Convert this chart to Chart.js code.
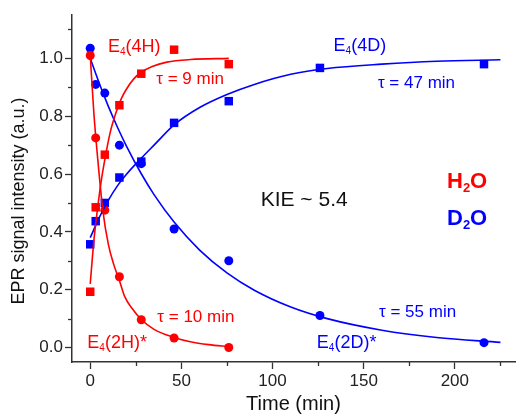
<!DOCTYPE html>
<html>
<head>
<meta charset="utf-8">
<script src="https://cdn.jsdelivr.net/npm/chart.js@4.4.0/dist/chart.umd.min.js"></script>
<style>
  html, body { margin: 0; padding: 0; background: #fff; }
  #wrap { width: 521px; height: 416px; }
</style>
</head>
<body>
<div id="wrap"><canvas id="c"></canvas></div>
<script>
// measured times (min)
const tH = [0, 3, 8, 16, 28, 46, 76];
const tD = [0, 3, 8, 16, 28, 46, 76, 126, 216];

// EPR intensities
const e4_4H = [0.193, 0.485, 0.667, 0.838, 0.947, 1.03, 0.98];
const e4_2H = [1.01, 0.725, 0.475, 0.245, 0.096, 0.033, 0.0];
const e4_4D = [0.357, 0.437, 0.50, 0.588, 0.643, 0.777, 0.852, 0.967, 0.98];
const e4_2D = [1.035, 0.91, 0.88, 0.70, 0.636, 0.41, 0.30, 0.111, 0.017];

// fitted curves, sampled from the figure
const fit4H_t = [0, 2, 4, 6, 8, 11, 14, 17, 20, 24, 28, 34, 42, 55, 76];
const fit4H_y = [0.22, 0.37, 0.48, 0.575, 0.65, 0.745, 0.81, 0.86, 0.895, 0.93, 0.952, 0.972, 0.987, 0.996, 1.0];
const fit2H_t = [0, 2, 4, 7, 10, 13, 16, 19, 23, 28, 35, 46, 55, 65, 76];
const fit2H_y = [1.01, 0.81, 0.66, 0.47, 0.355, 0.285, 0.232, 0.175, 0.135, 0.097, 0.063, 0.035, 0.02, 0.01, 0.003];
const fitD_t = [0, 5, 10, 15, 20, 28, 35, 46, 60, 75, 90, 110, 130, 160, 190, 225];
const fit4D_y = [0.38, 0.45, 0.51, 0.56, 0.60, 0.655, 0.70, 0.77, 0.83, 0.875, 0.91, 0.945, 0.965, 0.98, 0.99, 0.995];
const fit2D_y = [1.0, 0.913, 0.833, 0.761, 0.695, 0.601, 0.529, 0.434, 0.337, 0.258, 0.198, 0.14, 0.1, 0.06, 0.035, 0.018];

const xTicks = [0, 50, 100, 150, 200];
const xMinor = [25, 75, 125, 175, 225];
const yTicks = [0, 0.2, 0.4, 0.6, 0.8, 1.0];
const yMinor = [0.1, 0.3, 0.5, 0.7, 0.9, 1.1];

const yTitle = 'EPR signal intensity (a.u.)';

const RED = '#ff0000';
const BLUE = '#0000ff';
const FONT = 'Arial, "Liberation Sans", sans-serif';

// annotations: [x, y(baseline), text parts, colour, size, bold]
const notes = [
  [9.7, 1.021, [['E'], ['4', 1], ['(4H)']], RED, 18, false],
  [36.2, 0.912, [['τ = 9 min']], RED, 17, false],
  [133.5, 1.024, [['E'], ['4', 1], ['(4D)']], BLUE, 18, false],
  [157.8, 0.898, [['τ = 47 min']], BLUE, 17, false],
  [93.5, 0.491, [['KIE ~ 5.4']], '#111', 21, false],
  [195.7, 0.551, [['H'], ['2', 1], ['O']], RED, 22, true],
  [195.7, 0.423, [['D'], ['2', 1], ['O']], BLUE, 22, true],
  [36.8, 0.087, [['τ = 10 min']], RED, 17, false],
  [-1.6, -0.003, [['E'], ['4', 1], ['(2H)*']], RED, 18, false],
  [158.4, 0.107, [['τ = 55 min']], BLUE, 17, false],
  [124.3, -0.003, [['E'], ['4', 1], ['(2D)*']], BLUE, 18, false]
];

const pts = (xs, ys) => xs.map((x, i) => ({x: x, y: ys[i]}));

const curve = (xs, ys, color) => ({
  data: pts(xs, ys), showLine: true, borderColor: color, borderWidth: 1.6,
  pointRadius: 0, cubicInterpolationMode: 'monotone', fill: false
});
const marks = (xs, ys, color, style, r) => ({
  data: pts(xs, ys), showLine: false, pointStyle: style, pointRadius: r,
  pointBackgroundColor: color, pointBorderWidth: 0, backgroundColor: color
});

const extras = {
  id: 'extras',
  afterDraw(chart) {
    const ctx = chart.ctx, xs = chart.scales.x, ys = chart.scales.y;
    ctx.save();
    ctx.strokeStyle = '#333';
    ctx.lineWidth = 1.3;
    // minor ticks
    xMinor.forEach(v => {
      const px = Math.round(xs.getPixelForValue(v)) + 0.5;
      ctx.beginPath(); ctx.moveTo(px, xs.top); ctx.lineTo(px, xs.top + 4); ctx.stroke();
    });
    yMinor.forEach(v => {
      const py = Math.round(ys.getPixelForValue(v)) + 0.5;
      ctx.beginPath(); ctx.moveTo(ys.right, py); ctx.lineTo(ys.right - 4, py); ctx.stroke();
    });
    // y axis title, centred a little below the plot centre as in the original
    ctx.save();
    ctx.translate(19, ys.getPixelForValue(0.5) - 2);
    ctx.rotate(-Math.PI / 2);
    ctx.font = '18px ' + FONT;
    ctx.fillStyle = '#111';
    ctx.textAlign = 'center';
    ctx.textBaseline = 'middle';
    ctx.fillText(yTitle, 0, 0);
    ctx.restore();
    // text notes
    ctx.textBaseline = 'alphabetic';
    ctx.textAlign = 'left';
    notes.forEach(([x, y, parts, color, size, bold]) => {
      let cx = xs.getPixelForValue(x);
      const by = ys.getPixelForValue(y);
      ctx.fillStyle = color;
      parts.forEach(([t, sub]) => {
        const s = sub ? Math.round(size * 0.58) : size;
        ctx.font = (bold ? 'bold ' : '') + s + 'px ' + FONT;
        ctx.fillText(t, cx, sub ? by + size * 0.15 : by);
        cx += ctx.measureText(t).width;
      });
    });
    ctx.restore();
  }
};

new Chart(document.getElementById('c'), {
  type: 'scatter',
  data: {
    datasets: [
      curve(fit4H_t, fit4H_y, RED),
      curve(fit2H_t, fit2H_y, RED),
      curve(fitD_t, fit4D_y, BLUE),
      curve(fitD_t, fit2D_y, BLUE),
      marks(tH, e4_4H, RED, 'rect', 6),
      marks(tH, e4_2H, RED, 'circle', 4.5),
      marks(tD, e4_4D, BLUE, 'rect', 6),
      marks(tD, e4_2D, BLUE, 'circle', 4.5)
    ]
  },
  options: {
    responsive: true,
    maintainAspectRatio: false,
    animation: false,
    layout: { padding: { top: 15, right: 0, left: 0, bottom: 0 } },
    plugins: { legend: { display: false }, tooltip: { enabled: false } },
    scales: {
      x: {
        type: 'linear', min: -10, max: 233,
        afterFit: s => { s.height = 54; },
        afterBuildTicks: s => { s.ticks = xTicks.map(v => ({value: v})); },
        grid: { drawOnChartArea: false, drawTicks: true, tickLength: 7, color: '#333', tickWidth: 1.3 },
        border: { display: true, color: '#333', width: 1.5 },
        ticks: { color: '#222', padding: 2, font: { size: 17, family: FONT }, callback: v => String(v) },
        title: { display: true, text: 'Time (min)', color: '#111', font: { size: 20, family: FONT }, padding: { top: 0, bottom: 0 } }
      },
      y: {
        type: 'linear', min: -0.05, max: 1.15,
        afterFit: s => { s.width = 72; },
        afterBuildTicks: s => { s.ticks = yTicks.map(v => ({value: v})); },
        grid: { drawOnChartArea: false, drawTicks: true, tickLength: 7, color: '#333', tickWidth: 1.3 },
        border: { display: true, color: '#333', width: 1.5 },
        ticks: { color: '#222', padding: 2, font: { size: 17, family: FONT }, callback: v => v.toFixed(1) }
      }
    }
  },
  plugins: [extras]
});
</script>
</body>
</html>
